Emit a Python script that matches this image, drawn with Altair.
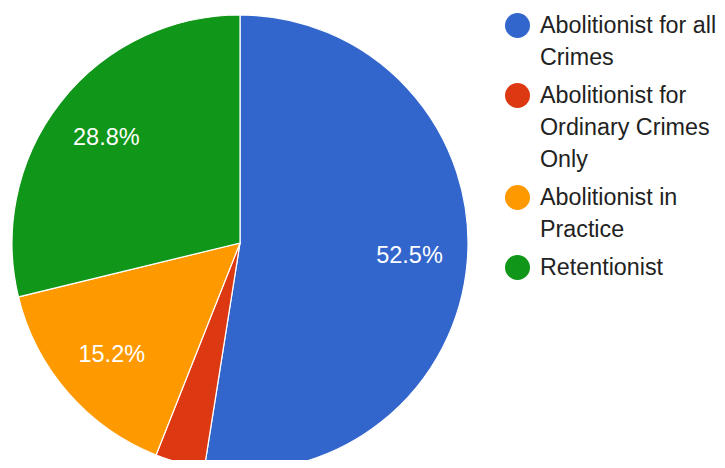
import altair as alt
import pandas as pd

categories = [
    "Abolitionist for all\nCrimes",
    "Abolitionist for\nOrdinary Crimes\nOnly",
    "Abolitionist in\nPractice",
    "Retentionist",
]
values = [52.5, 3.5, 15.2, 28.8]
colors = ["#3366cc", "#dc3912", "#ff9900", "#109618"]

df = pd.DataFrame({"category": categories, "value": values, "idx": list(range(len(values)))})

FONT = "Liberation Sans"

base = alt.Chart(df).encode(
    theta=alt.Theta("value:Q", stack=True),
    order=alt.Order("idx:Q"),
)

pie = base.mark_arc(radius=228, stroke="white", strokeWidth=1.2).encode(
    x=alt.value(232),
    y=alt.value(235),
    color=alt.Color(
        "category:N",
        sort=categories,
        scale=alt.Scale(domain=categories, range=colors),
        legend=alt.Legend(
            title=None,
            orient="none",
            legendX=497,
            legendY=5,
            symbolType="circle",
            symbolSize=625,
            symbolStrokeWidth=0,
            labelFont=FONT,
            labelFontSize=23.3,
            labelColor="#222222",
            labelLimit=400,
            labelOffset=10,
            rowPadding=14,
            labelExpr="split(datum.label, '\\n')",
        ),
    ),
)

labels = base.transform_calculate(
    lab="datum.value > 5 ? format(datum.value, '.1f') + '%' : ''"
).mark_text(radius=170, font=FONT, fontSize=23.5, color="white").encode(
    x=alt.value(232),
    y=alt.value(235),
    text="lab:N",
)

chart = (pie + labels).properties(
    width=709,
    height=452,
    padding=0,
    autosize=alt.AutoSizeParams(type="none"),
).configure(
    style={"guide-label": {"lineHeight": 32}},
).configure_view(stroke=None)

chart.save("out.html", embed_options={"renderer": "svg", "actions": False})
